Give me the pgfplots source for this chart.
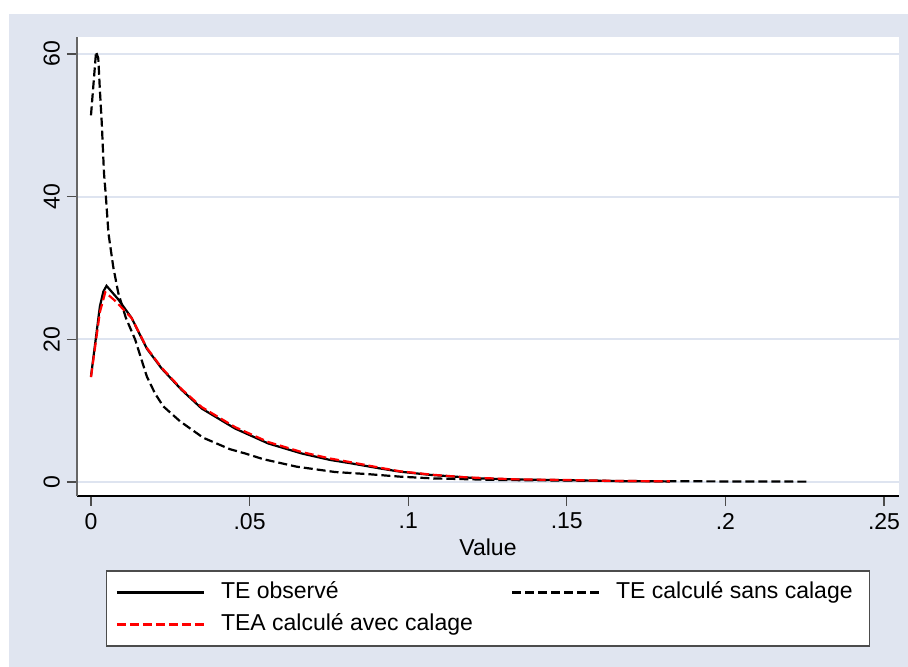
\documentclass[border=0pt]{standalone}
\usepackage{pgfplots}
\pgfplotsset{compat=1.18}
\usepackage{fontspec}
\setmainfont{Liberation Sans}
\definecolor{stbg}{RGB}{224,229,240}
\definecolor{stgrid}{RGB}{222,228,240}

\begin{document}
\begin{tikzpicture}[font=\fontsize{11.5}{13.8}\selectfont]
% page and graph region
\fill[white] (-38.5pt,-85.5pt) rectangle (415.5pt,248pt);
\fill[stbg] (-34pt,-85.5pt) rectangle (415.5pt,241pt);
\begin{axis}[
    scale only axis,
    width=411pt, height=229.5pt,
    at={(0,0)}, anchor=south west,
    xmin=-0.00441, xmax=0.25473,
    ymin=-1.963, ymax=62.38,
    axis x line*=bottom, axis y line*=left,
    axis line style={-},
    x axis line style={draw=black, line width=0.8pt},
    y axis line style={draw=black!60, line width=0.8pt},
    axis background/.style={fill=white},
    tick align=outside, major tick length=5pt,
    tick style={black!70, line width=0.6pt},
    xtick={0,0.05,0.1,0.15,0.2,0.25},
    xticklabels={0,.05,.1,.15,.2,.25},
    ytick={0,20,40,60},
    yticklabels={0,20,40,60},
    yticklabel style={rotate=90, anchor=south},
    ymajorgrids,
    major grid style={stgrid, line width=1pt},
    xlabel={Value},
    xlabel style={at={(axis description cs:0.5,-0.1111)}, anchor=center},
    legend columns=2,
    legend cell align=left,
    legend image code/.code={\draw[#1] (0pt,0pt) -- (43.5pt,0pt);},
    legend style={
        at={(0.5,-0.2451)}, anchor=center,
        draw=black!70, line width=0.6pt, fill=white,
        inner xsep=4.5pt, inner ysep=5.25pt, row sep=5pt,
        nodes={inner sep=0pt, text height=8.5pt, text depth=2.5pt},
        /tikz/every odd column/.style={column sep=8pt},
        /tikz/every even column/.style={column sep=19pt}
    },
]
% TE observe
\addplot[black, line width=1.1pt] coordinates {
    (0,14.8) (0.0028,24.6) (0.0039,26.7) (0.0049,27.5) (0.0086,25.6)
    (0.0128,23.0) (0.0176,18.7) (0.0223,15.9) (0.0286,12.9) (0.0349,10.3)
    (0.0454,7.5) (0.0559,5.4) (0.0664,4.0) (0.0753,3.1) (0.0822,2.6)
    (0.0911,1.9) (0.0974,1.45) (0.1069,1.0) (0.1226,0.5) (0.134,0.35)
    (0.15,0.25) (0.1657,0.12) (0.1825,0.08)
};
\addlegendentry{TE observé}
% TE calcule sans calage
\addplot[black, line width=1.1pt, dash pattern=on 4.5pt off 2pt] coordinates {
    (0,51.4) (0.0016,60.3) (0.0023,59.4) (0.0028,55.0) (0.0034,50.3)
    (0.0041,43.3) (0.0047,40.0) (0.0055,34.9) (0.0070,30.2) (0.0086,26.5)
    (0.0110,23.0) (0.0139,20.0) (0.0176,14.8) (0.0202,12.4) (0.0228,10.6)
    (0.0281,8.5) (0.0354,6.2) (0.0438,4.6) (0.0486,4.0) (0.0543,3.2)
    (0.0648,2.15) (0.0769,1.4) (0.0874,1.1) (0.0974,0.75) (0.108,0.5)
    (0.1289,0.28) (0.15,0.2) (0.175,0.12) (0.2,0.08) (0.2258,0.05)
};
\addlegendentry{\makebox[122pt][l]{TE calculé sans calage}}
% TEA calcule avec calage
\addplot[red, line width=1.1pt, dash pattern=on 4.5pt off 2pt] coordinates {
    (0,14.7) (0.0028,23.8) (0.0045,26.6) (0.0076,25.4) (0.0128,23.0)
    (0.0176,18.8) (0.0223,16.0) (0.0286,13.0) (0.0349,10.5) (0.0454,7.7)
    (0.0559,5.6) (0.0664,4.2) (0.0753,3.3) (0.0822,2.75) (0.0911,2.0)
    (0.0974,1.5) (0.108,1.0) (0.1184,0.65) (0.134,0.37) (0.15,0.28)
    (0.1657,0.14) (0.1825,0.1)
};
\addlegendentry{TEA calculé avec calage}
\end{axis}
\end{tikzpicture}
\end{document}
